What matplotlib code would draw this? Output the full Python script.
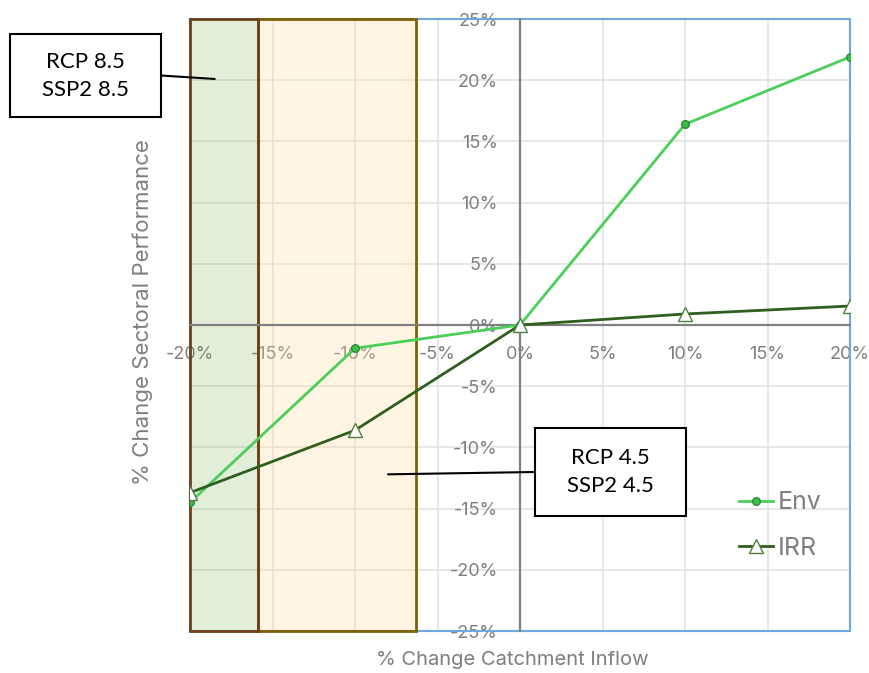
import matplotlib.pyplot as plt
from matplotlib.patches import Rectangle, ConnectionPatch
from matplotlib.ticker import FuncFormatter

# % change in catchment inflow and the resulting % change in sectoral performance
inflow = [-20, -10, 0, 10, 20]
env = [-14.5, -1.9, 0.0, 16.4, 21.9]
irr = [-13.7, -8.6, 0.0, 0.9, 1.55]

# scenario bands along the inflow axis
rcp85_band = (-20, -15.9)
rcp45_band = (-15.9, -6.3)

grey = '#7f7f7f'
plt.rcParams['font.family'] = ['Inter', 'DejaVu Sans']

fig = plt.figure(figsize=(8.69, 6.73), dpi=100)
ax = fig.add_axes([190/869, 1 - 631/673, 660/869, 612/673])

ax.set_xlim(-20, 20)
ax.set_ylim(-25, 25)
ax.set_xticks(range(-20, 21, 5))
ax.set_yticks(range(-25, 26, 5))
ax.grid(True, color='#e3e3e3', linewidth=1.2)
ax.set_axisbelow(True)

# shaded scenario ranges
ax.add_patch(Rectangle((rcp85_band[0], -25), rcp85_band[1] - rcp85_band[0], 50,
                       facecolor='#70ad47', alpha=0.2, edgecolor='none', zorder=1))
ax.add_patch(Rectangle((rcp45_band[0], -25), rcp45_band[1] - rcp45_band[0], 50,
                       facecolor='#ffe0a0', alpha=0.3, edgecolor='none', zorder=1))
ax.add_patch(Rectangle((rcp45_band[0], -25), rcp45_band[1] - rcp45_band[0], 50,
                       facecolor='none', edgecolor='#7f6000', linewidth=2, zorder=2, clip_on=False))
ax.add_patch(Rectangle((rcp85_band[0], -25), rcp85_band[1] - rcp85_band[0], 50,
                       facecolor='none', edgecolor='#70401a', linewidth=2, zorder=2, clip_on=False))

# crossing axes through the origin
for side in ['left', 'bottom']:
    ax.spines[side].set_position(('data', 0))
    ax.spines[side].set_color('#808080')
    ax.spines[side].set_linewidth(1.6)
    ax.spines[side].set_zorder(2.5)
for side in ['top', 'right']:
    ax.spines[side].set_visible(False)
ax.add_patch(Rectangle((0, 0), 1, 1, transform=ax.transAxes, fill=False,
                       edgecolor='#6fa8dc', linewidth=1.5, zorder=1.5, clip_on=False))

pct = FuncFormatter(lambda v, p: f'{v:.0f}%')
ax.xaxis.set_major_formatter(pct)
ax.yaxis.set_major_formatter(pct)
ax.tick_params(length=0, labelsize=13, labelcolor=grey)
ax.tick_params(axis='y', pad=16)
ax.tick_params(axis='x', pad=15)

ax.plot(inflow, env, color='#4ccf5a', linewidth=2, marker='o', markersize=5.5,
        markerfacecolor='#3cbf4a', markeredgecolor='#2a8f36', label='Env', zorder=3)
ax.plot(inflow, irr, color='#2f5f1f', linewidth=2, marker='^', markersize=10,
        markerfacecolor='white', markeredgecolor='#4f7f3f', label='IRR', zorder=3)

ax.legend(loc='center left', bbox_to_anchor=(0.832, 0.172), frameon=False,
          fontsize=18, handlelength=1.35, handletextpad=0.2, labelspacing=0.9,
          borderpad=0, borderaxespad=0, labelcolor=grey)

fig.text(512/869, 1 - 660/673, '% Change Catchment Inflow', ha='center', va='center',
         fontsize=14.5, color=grey)
fig.text(143/869, 1 - 312/673, '% Change Sectoral Performance', ha='center', va='center',
         rotation=90, fontsize=16, color=grey)

# callout boxes for the two scenarios
callouts = [
    ('RCP 8.5\nSSP2 8.5', (10, 34, 151, 83), (-18.5, 20.1)),
    ('RCP 4.5\nSSP2 4.5', (535, 428, 151, 88), (-8.0, -12.2)),
]
W, H = 869, 673
for label, (x0, y0, w, h), target in callouts:
    fx, fy = x0 / W, 1 - (y0 + h) / H
    fig.add_artist(Rectangle((fx, fy), w / W, h / H, transform=fig.transFigure,
                             facecolor='white', edgecolor='black', linewidth=1.5, zorder=5))
    fig.text(fx + w / W / 2, fy + h / H / 2, label, ha='center', va='center',
             fontsize=16, linespacing=1.5, family=['Lato', 'DejaVu Sans'], zorder=6)
    edge_x = fx + w / W if target[0] < -15 else fx
    con = ConnectionPatch(xyA=(edge_x, fy + h / H / 2), coordsA=fig.transFigure,
                          xyB=target, coordsB=ax.transData, color='black', linewidth=1.5, zorder=5)
    fig.add_artist(con)

fig.savefig('out.png', dpi=100)
